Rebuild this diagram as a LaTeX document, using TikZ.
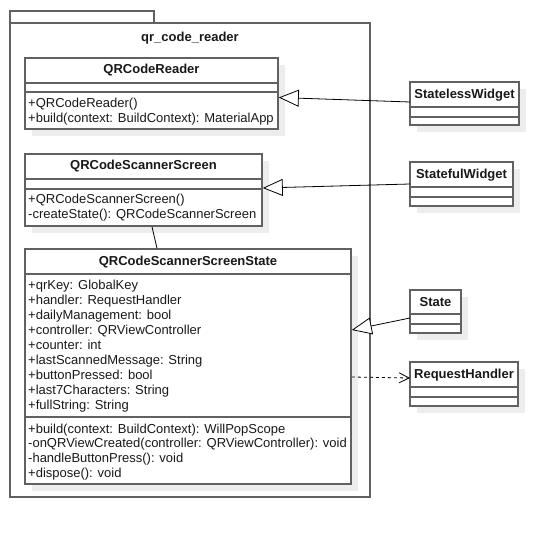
\documentclass[tikz,border=0pt]{standalone}
\usepackage{fontspec}
\setmainfont{Liberation Sans}
\usetikzlibrary{arrows.meta,calc}
\begin{document}
\begin{tikzpicture}[x=1pt,y=-1pt,
  boxline/.style={draw=black!62,line width=1.5pt},
  shadowfill/.style={fill=black!7},
  classbox/.style={boxline, fill=white, rectangle, inner sep=0pt, outer sep=0pt, anchor=north west},
  nametext/.style={font=\fontsize{13}{15}\selectfont\bfseries, inner sep=0pt, text=black!90},
  membertext/.style={font=\fontsize{13}{15}\selectfont, inner sep=0pt, anchor=base west, text=black!90},
  conn/.style={draw=black, line width=0.8pt},
  gen/.style={conn, -{Triangle[open,length=20pt,width=17pt,fill=white,line width=0.8pt]}},
  dep/.style={conn, dash pattern=on 3pt off 3pt, -{Straight Barb[length=10pt,width=10pt,line width=0.8pt]}}
]
\useasboundingbox (0,0) rectangle (559,538);
\fill[white] (0,0) rectangle (559,538);

% package
\node[classbox, minimum width=144pt, minimum height=12pt] (pkgtab) at (10,11) {};
\node[classbox, minimum width=360pt, minimum height=474pt] (pkg) at (10,23) {};
\node[nametext] (pkgname) at (190,38) {qr\_code\_reader};

% shadows
\fill[shadowfill] (32,65) rectangle ++(253,71);
\fill[shadowfill] (32,161) rectangle ++(237,72);
\fill[shadowfill] (32,256) rectangle ++(326,235);
\fill[shadowfill] (417,89) rectangle ++(109,43);
\fill[shadowfill] (417,169) rectangle ++(103,44);
\fill[shadowfill] (417,297) rectangle ++(51,43);
\fill[shadowfill] (417,369) rectangle ++(108,44);

% QRCodeReader
\node[classbox, minimum width=253pt, minimum height=71pt] (reader) at (25,58) {};
\draw[boxline] (reader.west |- 0,83) -- (reader.east |- 0,83);
\draw[boxline] (reader.west |- 0,92) -- (reader.east |- 0,92);
\node[nametext] (readername) at (151.5,70.5) {QRCodeReader};
\node[membertext] (rm1) at (28,107) {+QRCodeReader()};
\node[membertext] (rm2) at (28,122) {+build(context: BuildContext): MaterialApp};

% QRCodeScannerScreen
\node[classbox, minimum width=237pt, minimum height=72pt] (screen) at (25,154) {};
\draw[boxline] (screen.west |- 0,179) -- (screen.east |- 0,179);
\draw[boxline] (screen.west |- 0,189) -- (screen.east |- 0,189);
\node[nametext] (screenname) at (143.5,166.5) {QRCodeScannerScreen};
\node[membertext] (sm1) at (28,203.5) {+QRCodeScannerScreen()};
\node[membertext] (sm2) at (28,218) {-createState(): QRCodeScannerScreen};

% QRCodeScannerScreenState
\node[classbox, minimum width=326pt, minimum height=235pt] (sstate) at (25,249) {};
\draw[boxline] (sstate.west |- 0,274) -- (sstate.east |- 0,274);
\draw[boxline] (sstate.west |- 0,417) -- (sstate.east |- 0,417);
\node[nametext] (sstatename) at (188,262) {QRCodeScannerScreenState};
\foreach \t [count=\i from 0] in {+qrKey: GlobalKey, +handler: RequestHandler, +dailyManagement: bool, +controller: QRViewController, +counter: int, +lastScannedMessage: String, +buttonPressed: bool, +last7Characters: String, +fullString: String}
  \node[membertext] (sa\i) at (28,289+15*\i) {\t};
\foreach \t [count=\i from 0] in {+build(context: BuildContext): WillPopScope, -onQRViewCreated(controller: QRViewController): void, -handleButtonPress(): void, +dispose(): void}
  \node[membertext] (so\i) at (28,433+14.7*\i) {\t};

% StatelessWidget
\node[classbox, minimum width=109pt, minimum height=43pt] (sless) at (410,82) {};
\draw[boxline] (sless.west |- 0,107) -- (sless.east |- 0,107);
\draw[boxline] (sless.west |- 0,117) -- (sless.east |- 0,117);
\node[nametext] (slessname) at (464.5,95) {StatelessWidget};

% StatefulWidget
\node[classbox, minimum width=103pt, minimum height=44pt] (sful) at (410,162) {};
\draw[boxline] (sful.west |- 0,187) -- (sful.east |- 0,187);
\draw[boxline] (sful.west |- 0,197) -- (sful.east |- 0,197);
\node[nametext] (sfulname) at (461.5,175) {StatefulWidget};

% State
\node[classbox, minimum width=51pt, minimum height=43pt] (stateb) at (410,290) {};
\draw[boxline] (stateb.west |- 0,314) -- (stateb.east |- 0,314);
\draw[boxline] (stateb.west |- 0,324) -- (stateb.east |- 0,324);
\node[nametext] (statename) at (435.5,302.5) {State};

% RequestHandler
\node[classbox, minimum width=108pt, minimum height=44pt] (reqh) at (410,362) {};
\draw[boxline] (reqh.west |- 0,387) -- (reqh.east |- 0,387);
\draw[boxline] (reqh.west |- 0,397) -- (reqh.east |- 0,397);
\node[nametext] (reqhname) at (464,375) {RequestHandler};

% connectors
\draw[gen] ($(sless.west)+(0,-1.5)$) -- ($(reader.east)+(0.8,4)$);
\draw[gen] (sful.west) -- ($(screen.east)+(0.8,-2)$);
\draw[gen] ($(stateb.west)+(0,6.5)$) -- ($(sstate.east)+(0.8,-36.5)$);
\draw[dep] ($(sstate.east)+(0.8,10.5)$) -- ($(reqh.west)+(0,-6)$);
\draw[conn] ($(screen.south)+(8.5,0.8)$) -- ($(sstate.north)+(-31,-0.8)$);
\end{tikzpicture}
\end{document}
